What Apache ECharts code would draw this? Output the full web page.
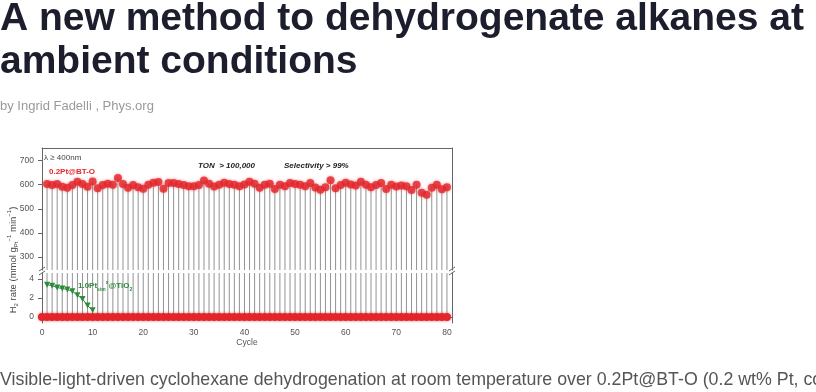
<!DOCTYPE html>
<html>
<head>
<meta charset="utf-8">
<script src="https://cdn.jsdelivr.net/npm/echarts@6/dist/echarts.min.js"></script>
<style>
html,body{margin:0;padding:0;background:#fff;}
#c{width:816px;height:392px;}
</style>
</head>
<body>
<div id="c"></div>
<script>
// ---- data ----
const cycles = [1,2,3,4,5,6,7,8,9,10,11,12,13,14,15,16,17,18,19,20,21,22,23,24,25,26,27,28,29,30,31,32,33,34,35,36,37,38,39,40,41,42,43,44,45,46,47,48,49,50,51,52,53,54,55,56,57,58,59,60,61,62,63,64,65,66,67,68,69,70,71,72,73,74,75,76,77,78,79,80];
const btoRate = [603,599,603,592,588,599,612,603,592,614,
                 585,599,604,600,628,603,588,599,590,583,
                 600,608,611,583,607,607,603,599,594,594,
                 599,618,604,593,600,608,603,600,594,601,
                 612,604,588,600,604,582,600,594,607,603,
                 600,594,607,589,579,590,619,585,599,608,
                 601,597,612,600,590,599,607,582,600,593,
                 597,594,578,600,567,558,588,600,581,590];
const zeroCycles = [0,1,2,3,4,5,6,7,8,9,10,11,12,13,14,15,16,17,18,19,20,21,22,23,24,25,26,27,28,29,30,31,32,33,34,35,36,37,38,39,40,41,42,43,44,45,46,47,48,49,50,51,52,53,54,55,56,57,58,59,60,61,62,63,64,65,66,67,68,69,70,71,72,73,74,75,76,77,78,79,80];
const zeroRate = [0,0,0,0,0,0,0,0,0,0,0,0,0,0,0,0,0,0,0,0,0,0,0,0,0,0,0,0,0,0,0,0,0,0,0,0,0,0,0,0,0,0,0,0,0,0,0,0,0,0,0,0,0,0,0,0,0,0,0,0,0,0,0,0,0,0,0,0,0,0,0,0,0,0,0,0,0,0,0,0,0];
const tio2Cycles = [1,2,3,4,5,6,7,8,9,10];
const tio2Rate = [3.4,3.3,3.1,3.0,2.9,2.7,2.3,1.9,1.2,0.7];
const xTickValues = [0,5,10,15,20,25,30,35,40,45,50,55,60,65,70,75,80];
const xLabelValues = [0,10,20,30,40,50,60,70,80];
const yUpperTicks = [300,400,500,600,700];
const yLowerTicks = [0,2,4];

const pairs = (xs, ys) => xs.map((x, i) => [x, ys[i]]);

const AX = '#666';
const LBL = '#555';
const FONT = '"Liberation Sans", Arial, sans-serif';

const chart = echarts.init(document.getElementById('c'), null, {renderer: 'canvas'});

function frameAxis(extra) {
  return Object.assign({
    type: 'value',
    axisLine: {show: true, lineStyle: {color: AX, width: 1}},
    axisTick: {show: false},
    axisLabel: {show: false},
    splitLine: {show: false}
  }, extra);
}

const option = {
  animation: false,
  backgroundColor: '#fff',
  grid: [
    {left: 42, top: 148, width: 410, height: 122},
    {left: 42, top: 273, width: 410, height: 50}
  ],
  xAxis: [
    frameAxis({gridIndex: 0, min: 0, max: 81, position: 'top'}),
    frameAxis({
      gridIndex: 1, min: 0, max: 81, position: 'bottom',
      axisTick: {show: true, inside: false, length: 3, lineStyle: {color: AX}, customValues: xTickValues},
      axisLabel: {show: true, customValues: xLabelValues, color: LBL, fontSize: 8.5, fontFamily: FONT, margin: 5},
      name: 'Cycle', nameLocation: 'middle', nameGap: 14,
      nameTextStyle: {color: LBL, fontSize: 8.5, fontFamily: FONT}
    })
  ],
  yAxis: [
    frameAxis({
      gridIndex: 0, min: 245, max: 753, position: 'left',
      axisTick: {show: true, inside: false, length: 4, lineStyle: {color: AX}, customValues: yUpperTicks},
      axisLabel: {show: true, customValues: yUpperTicks, color: LBL, fontSize: 8.5, fontFamily: FONT, margin: 8}
    }),
    frameAxis({gridIndex: 0, min: 245, max: 753, position: 'right'}),
    frameAxis({
      gridIndex: 1, min: -0.63, max: 4.63, position: 'left',
      axisTick: {show: true, inside: false, length: 4, lineStyle: {color: AX}, customValues: yLowerTicks},
      axisLabel: {show: true, customValues: yLowerTicks, color: LBL, fontSize: 8.5, fontFamily: FONT, margin: 8}
    }),
    frameAxis({gridIndex: 1, min: -0.63, max: 4.63, position: 'right'})
  ],
  series: [
    {type: 'bar', xAxisIndex: 0, yAxisIndex: 0, data: pairs(cycles, btoRate), barWidth: 1,
     itemStyle: {color: '#939393'}, clip: true, z: 1, silent: true},
    {type: 'bar', xAxisIndex: 1, yAxisIndex: 2, data: pairs(cycles, btoRate), barWidth: 1,
     itemStyle: {color: '#939393'}, clip: true, z: 1, silent: true},
    {type: 'scatter', xAxisIndex: 0, yAxisIndex: 0, data: pairs(cycles, btoRate),
     symbol: 'circle', symbolSize: 8, z: 4,
     itemStyle: {color: '#e2262c', shadowBlur: 3, shadowColor: 'rgba(230,40,40,0.55)'}},
    {type: 'line', xAxisIndex: 1, yAxisIndex: 2, data: pairs(zeroCycles, zeroRate),
     symbol: 'circle', symbolSize: 8, showSymbol: true, z: 4,
     lineStyle: {color: '#e2262c', width: 3},
     itemStyle: {color: '#e2262c', shadowBlur: 3, shadowColor: 'rgba(230,40,40,0.55)'}},
    {type: 'line', xAxisIndex: 1, yAxisIndex: 2, data: pairs(tio2Cycles, tio2Rate),
     symbol: 'triangle', symbolRotate: 180, symbolSize: 6, z: 5,
     lineStyle: {color: '#2e8b3a', width: 1},
     itemStyle: {color: '#2e8b3a'}}
  ],
  graphic: [
    // page text
    {type: 'text', left: 0, top: -2, style: {
      text: 'A new method to dehydrogenate alkanes at\nambient conditions',
      font: 'bold 39px ' + FONT, lineHeight: 43, fill: '#1c1e2d'}},
    {type: 'text', x: 0, y: 106, style: {
      text: 'by Ingrid Fadelli , Phys.org', font: '13px ' + FONT, fill: '#9a9a9a', verticalAlign: 'middle'}},
    {type: 'text', x: 0, y: 380, style: {
      text: 'Visible-light-driven cyclohexane dehydrogenation at room temperature over 0.2Pt@BT-O (0.2 wt% Pt, comprising Pt single atoms and clusters) and 1.0Pt@TiO2.',
      font: '17.8px ' + FONT, fill: '#555', verticalAlign: 'middle'}},
    // chart annotations
    {type: 'text', x: 44, y: 158, z: 10, style: {text: 'λ ≥ 400nm', font: '8px ' + FONT, fill: '#444', verticalAlign: 'middle'}},
    {type: 'text', x: 49, y: 172, z: 10, style: {text: '0.2Pt@BT-O', font: 'bold 8px ' + FONT, fill: '#e2262c', verticalAlign: 'middle'}},
    {type: 'text', x: 198, y: 166, z: 10, style: {text: 'TON  > 100,000', font: 'italic bold 8px ' + FONT, fill: '#222', verticalAlign: 'middle'}},
    {type: 'text', x: 284, y: 166, z: 10, style: {text: 'Selectivity > 99%', font: 'italic bold 8px ' + FONT, fill: '#222', verticalAlign: 'middle'}},
    {type: 'text', x: 78, y: 286, z: 10, style: {
      text: '{n|1.0Pt}{sub|sim}{sup|x}{n|@TiO}{sub|2}',
      verticalAlign: 'middle',
      rich: {
        n: {font: 'bold 8px ' + FONT, fill: '#2e8b3a', lineHeight: 12, verticalAlign: 'middle'},
        sub: {font: 'bold 5px ' + FONT, fill: '#2e8b3a', lineHeight: 12, verticalAlign: 'bottom'},
        sup: {font: 'bold 5px ' + FONT, fill: '#2e8b3a', lineHeight: 12, verticalAlign: 'top'}
      }}},
    // y axis name
    {type: 'text', x: 13, y: 260, rotation: Math.PI / 2, z: 10, style: {
      text: '{n|H}{sub|2}{n| rate (mmol g}{sub|Pt}{sup|−1}{n| min}{sup|−1}{n|)}',
      align: 'center', verticalAlign: 'middle',
      rich: {
        n: {font: '9.5px ' + FONT, fill: '#444', lineHeight: 13, verticalAlign: 'middle'},
        sub: {font: '6px ' + FONT, fill: '#444', lineHeight: 13, verticalAlign: 'bottom'},
        sup: {font: '6px ' + FONT, fill: '#444', lineHeight: 13, verticalAlign: 'top'}
      }}},
    // axis break marks
    {type: 'polyline', z: 10, shape: {points: [[39, 271], [45, 267]]}, style: {stroke: AX, lineWidth: 1}},
    {type: 'polyline', z: 10, shape: {points: [[39, 275], [45, 271]]}, style: {stroke: AX, lineWidth: 1}},
    {type: 'polyline', z: 10, shape: {points: [[449, 271], [455, 267]]}, style: {stroke: AX, lineWidth: 1}},
    {type: 'polyline', z: 10, shape: {points: [[449, 275], [455, 271]]}, style: {stroke: AX, lineWidth: 1}}
  ]
};
chart.setOption(option);
</script>
</body>
</html>
